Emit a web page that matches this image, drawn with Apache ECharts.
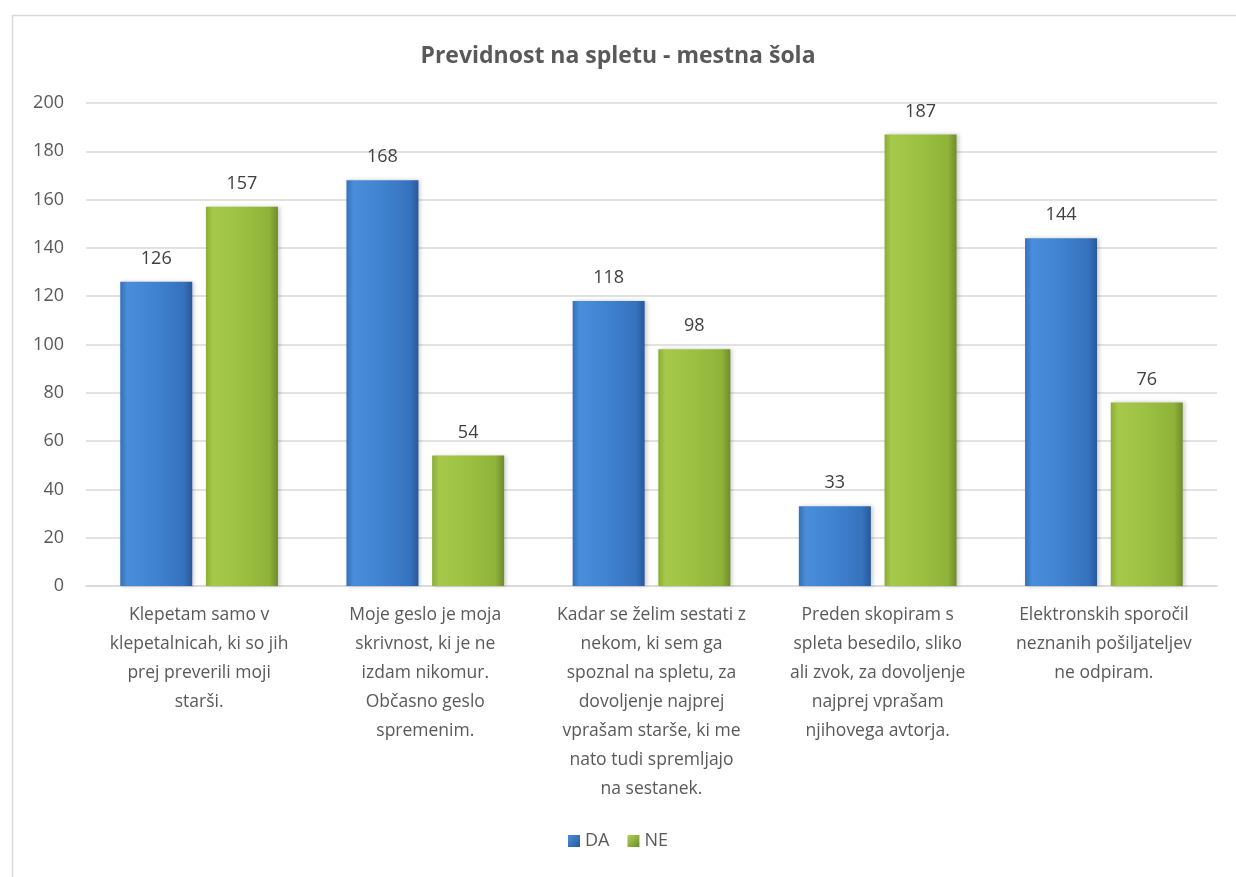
<!DOCTYPE html>
<html>
<head>
<meta charset="utf-8">
<script src="https://cdn.jsdelivr.net/npm/echarts@6/dist/echarts.min.js"></script>
<style>
  html, body { margin: 0; padding: 0; background: #fff; }
  #chart { width: 1236px; height: 877px; }
</style>
</head>
<body>
<div id="chart"></div>
<script>
var categories = [
  'Klepetam samo v\nklepetalnicah, ki so jih\nprej preverili moji\nstarši.',
  'Moje geslo je moja\nskrivnost, ki je ne\nizdam nikomur.\nObčasno geslo\nspremenim.',
  'Kadar se želim sestati z\nnekom, ki sem ga\nspoznal na spletu, za\ndovoljenje najprej\nvprašam starše, ki me\nnato tudi spremljajo\nna sestanek.',
  'Preden skopiram s\nspleta besedilo, sliko\nali zvok, za dovoljenje\nnajprej vprašam\nnjihovega avtorja.',
  'Elektronskih sporočil\nneznanih pošiljateljev\nne odpiram.'
];
var daValues = [126, 168, 118, 33, 144];
var neValues = [157, 54, 98, 187, 76];

var font = "'Open Sans', 'Liberation Sans', sans-serif";

function hGrad(stops) {
  return new echarts.graphic.LinearGradient(0, 0, 1, 0, stops);
}
var blueFill = hGrad([
  {offset: 0, color: '#3570b8'},
  {offset: 0.1, color: '#4a8edb'},
  {offset: 0.5, color: '#3f82d0'},
  {offset: 0.88, color: '#3672bd'},
  {offset: 1, color: '#28589a'}
]);
var greenFill = hGrad([
  {offset: 0, color: '#8aae35'},
  {offset: 0.1, color: '#a6c94b'},
  {offset: 0.5, color: '#9cc041'},
  {offset: 0.88, color: '#8fb23a'},
  {offset: 1, color: '#6f8c2a'}
]);
var legendBlue = new echarts.graphic.LinearGradient(0, 0, 1, 1, [
  {offset: 0, color: '#4a8edb'}, {offset: 1, color: '#28589a'}
]);
var legendGreen = new echarts.graphic.LinearGradient(0, 0, 1, 1, [
  {offset: 0, color: '#b0d25a'}, {offset: 1, color: '#6f8c2a'}
]);

var chart = echarts.init(document.getElementById('chart'), null, {renderer: 'canvas'});
chart.setOption({
  backgroundColor: '#fff',
  animation: false,
  graphic: [{
    type: 'rect',
    left: 10, top: 13,
    shape: {width: 1240, height: 880},
    style: {fill: 'none', stroke: '#d9d9d9', lineWidth: 1.5},
    silent: true
  }],
  title: {
    text: 'Previdnost na spletu - mestna šola',
    left: 'center',
    top: 40,
    textStyle: {fontFamily: font, fontSize: 23, fontWeight: 'bold', color: '#595959'}
  },
  legend: {
    bottom: 22,
    left: 'center',
    itemWidth: 12,
    itemHeight: 12,
    itemGap: 18,
    textStyle: {fontFamily: font, fontSize: 18, color: '#595959'},
    data: [
      {name: 'DA', icon: 'rect', itemStyle: {color: legendBlue}},
      {name: 'NE', icon: 'rect', itemStyle: {color: legendGreen}}
    ]
  },
  grid: {left: 86, right: 19, top: 103, bottom: 291, containLabel: false},
  xAxis: {
    type: 'category',
    data: categories,
    axisLine: {lineStyle: {color: '#d9d9d9', width: 1.5}},
    axisTick: {show: false},
    axisLabel: {
      interval: 0,
      margin: 15,
      fontFamily: font,
      fontSize: 17.5,
      lineHeight: 29,
      color: '#595959',
      align: 'center'
    }
  },
  yAxis: {
    type: 'value',
    min: 0,
    max: 200,
    interval: 20,
    axisLine: {show: false},
    axisTick: {show: false},
    splitLine: {lineStyle: {color: '#d9d9d9', width: 1.5}},
    axisLabel: {fontFamily: font, fontSize: 18, color: '#595959', margin: 22}
  },
  series: [{
    name: 'DA',
    type: 'bar',
    data: daValues,
    barWidth: 72,
    barGap: '19%',
    itemStyle: {color: blueFill, shadowColor: 'rgba(0,0,0,0.2)', shadowBlur: 4, shadowOffsetX: 2, shadowOffsetY: 0},
    label: {show: true, position: 'top', distance: 14, fontFamily: font, fontSize: 18, color: '#404040'}
  }, {
    name: 'NE',
    type: 'bar',
    data: neValues,
    barWidth: 72,
    itemStyle: {color: greenFill, shadowColor: 'rgba(0,0,0,0.2)', shadowBlur: 4, shadowOffsetX: 2, shadowOffsetY: 0},
    label: {show: true, position: 'top', distance: 14, fontFamily: font, fontSize: 18, color: '#404040'}
  }]
});
</script>
</body>
</html>
